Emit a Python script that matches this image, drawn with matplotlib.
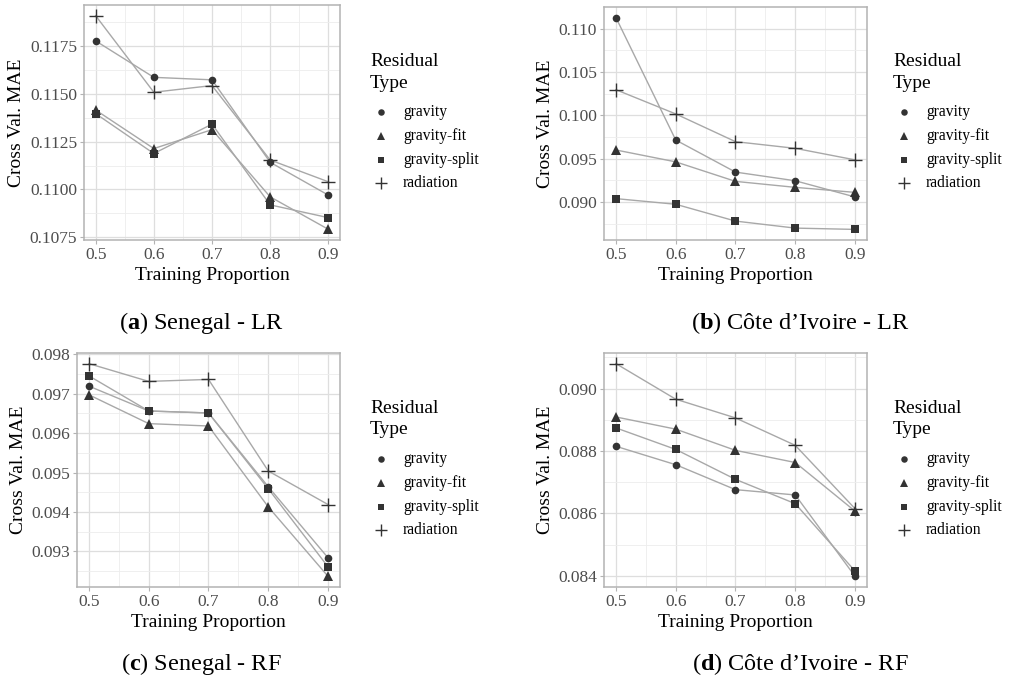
import matplotlib
matplotlib.use("Agg")
import matplotlib.pyplot as plt
from matplotlib.ticker import MultipleLocator, FixedLocator

plt.rcParams["font.family"] = ["Liberation Serif", "DejaVu Serif"]
plt.rcParams["mathtext.fontset"] = "custom"
plt.rcParams["mathtext.rm"] = "Liberation Serif"
plt.rcParams["mathtext.bf"] = "Liberation Serif:bold"

proportions = [0.5, 0.6, 0.7, 0.8, 0.9]
residual_types = ["gravity", "gravity-fit", "gravity-split", "radiation"]

# Senegal - LR
sen_lr_gravity = [0.11778, 0.11587, 0.11574, 0.11142, 0.10970]
sen_lr_gravity_fit = [0.11416, 0.11214, 0.11313, 0.10961, 0.10791]
sen_lr_gravity_split = [0.11397, 0.11188, 0.11342, 0.10919, 0.10852]
sen_lr_radiation = [0.11910, 0.11509, 0.11544, 0.11154, 0.11040]

# Côte d'Ivoire - LR
civ_lr_gravity = [0.11126, 0.09714, 0.09344, 0.09244, 0.09057]
civ_lr_gravity_fit = [0.09599, 0.09462, 0.09237, 0.09168, 0.09110]
civ_lr_gravity_split = [0.09038, 0.08973, 0.08779, 0.08698, 0.08683]
civ_lr_radiation = [0.10294, 0.10015, 0.09695, 0.09618, 0.09485]

# Senegal - RF
sen_rf_gravity = [0.09719, 0.09656, 0.09651, 0.09464, 0.09284]
sen_rf_gravity_fit = [0.09697, 0.09624, 0.09618, 0.09413, 0.09237]
sen_rf_gravity_split = [0.09745, 0.09656, 0.09651, 0.09459, 0.09261]
sen_rf_radiation = [0.09776, 0.09731, 0.09736, 0.09504, 0.09419]

# Côte d'Ivoire - RF
civ_rf_gravity = [0.08815, 0.08756, 0.08676, 0.08659, 0.08398]
civ_rf_gravity_fit = [0.08909, 0.08870, 0.08802, 0.08763, 0.08607]
civ_rf_gravity_split = [0.08874, 0.08805, 0.08709, 0.08631, 0.08415]
civ_rf_radiation = [0.09080, 0.08966, 0.08906, 0.08818, 0.08615]

y_ticks_sen_lr = [0.1075, 0.1100, 0.1125, 0.1150, 0.1175]
y_ticks_civ_lr = [0.090, 0.095, 0.100, 0.105, 0.110]
y_ticks_sen_rf = [0.093, 0.094, 0.095, 0.096, 0.097, 0.098]
y_ticks_civ_rf = [0.084, 0.086, 0.088, 0.090]

panels = [
    dict(series=[sen_lr_gravity, sen_lr_gravity_fit, sen_lr_gravity_split, sen_lr_radiation],
         yticks=y_ticks_sen_lr, fmt="{:.4f}", box=(84, 5, 340, 240),
         caption=r"($\mathbf{a}$) Senegal - LR", cap_xy=(201, 323), leg=(370, 62)),
    dict(series=[civ_lr_gravity, civ_lr_gravity_fit, civ_lr_gravity_split, civ_lr_radiation],
         yticks=y_ticks_civ_lr, fmt="{:.3f}", box=(604, 7, 867, 240),
         caption=r"($\mathbf{b}$) Côte d’Ivoire - LR", cap_xy=(800, 323), leg=(893, 62)),
    dict(series=[sen_rf_gravity, sen_rf_gravity_fit, sen_rf_gravity_split, sen_rf_radiation],
         yticks=y_ticks_sen_rf, fmt="{:.3f}", box=(77, 353, 340, 587),
         caption=r"($\mathbf{c}$) Senegal - RF", cap_xy=(201, 664), leg=(370, 409)),
    dict(series=[civ_rf_gravity, civ_rf_gravity_fit, civ_rf_gravity_split, civ_rf_radiation],
         yticks=y_ticks_civ_rf, fmt="{:.3f}", box=(604, 353, 867, 587),
         caption=r"($\mathbf{d}$) Côte d’Ivoire - RF", cap_xy=(800, 664), leg=(893, 409)),
]

markers = ["o", "^", "s", "+"]
msizes = [5.5, 6.5, 5.2, 9.5]
mark_color = "#333333"
line_color = "#A8A8A8"
grid_color = "#DEDEDE"
frame_color = "#B3B3B3"

W, H = 1009, 688
fig = plt.figure(figsize=(W / 100, H / 100), dpi=100)


def fx(px):
    return px / W


def fy(py):
    return 1 - py / H


for p in panels:
    l, t, r, b = p["box"]
    ax = fig.add_axes([fx(l), fy(b), (r - l) / W, (b - t) / H])
    for vals, m, ms in zip(p["series"], markers, msizes):
        ax.plot(proportions, vals, color=line_color, lw=1.0, zorder=2)
        ax.plot(proportions, vals, ls="none", marker=m, ms=ms, color=mark_color,
                mew=1.0 if m == "+" else 0, zorder=3)
    ax.margins(x=0.05, y=0.05)
    ax.set_xticks(proportions)
    ax.set_xticklabels([f"{v:.1f}" for v in proportions])
    ax.xaxis.set_minor_locator(FixedLocator([0.55, 0.65, 0.75, 0.85]))
    yt = p["yticks"]
    ax.set_yticks(yt)
    ax.set_yticklabels([p["fmt"].format(v) for v in yt])
    step = yt[1] - yt[0]
    ax.yaxis.set_minor_locator(MultipleLocator(step / 2))
    ax.grid(which="major", color=grid_color, lw=0.9, zorder=0)
    ax.grid(which="minor", color="#EDEDED", lw=0.6, zorder=0)
    ax.set_axisbelow(True)
    for s in ax.spines.values():
        s.set_color(frame_color)
        s.set_linewidth(1.1)
    ax.tick_params(which="major", length=3, width=0.8, color=frame_color,
                   labelsize=12.5, labelcolor="#4D4D4D", pad=2)
    ax.tick_params(which="minor", length=0)
    ax.set_xlabel("Training Proportion", fontsize=14, labelpad=3)
    ax.set_ylabel("Cross Val. MAE", fontsize=14, labelpad=3)

    # legend
    lx, ly = p["leg"]
    fig.text(fx(lx), fy(ly), "Residual", fontsize=14, va="center", ha="left")
    fig.text(fx(lx), fy(ly + 21), "Type", fontsize=14, va="center", ha="left")
    for i, (name, m, ms) in enumerate(zip(residual_types, markers, msizes)):
        yy = ly + 50 + i * 23.8
        fig.lines.append(plt.Line2D([fx(lx + 11)], [fy(yy)], ls="none", marker=m,
                                    ms=ms * 0.85, color=mark_color,
                                    mew=1.0 if m == "+" else 0,
                                    transform=fig.transFigure))
        fig.text(fx(lx + 33), fy(yy), name, fontsize=11.2, va="center", ha="left")

    cx, cy = p["cap_xy"]
    fig.text(fx(cx), fy(cy), p["caption"], fontsize=17.5, ha="center", va="center")

fig.savefig("out.png", dpi=100, facecolor="white")
